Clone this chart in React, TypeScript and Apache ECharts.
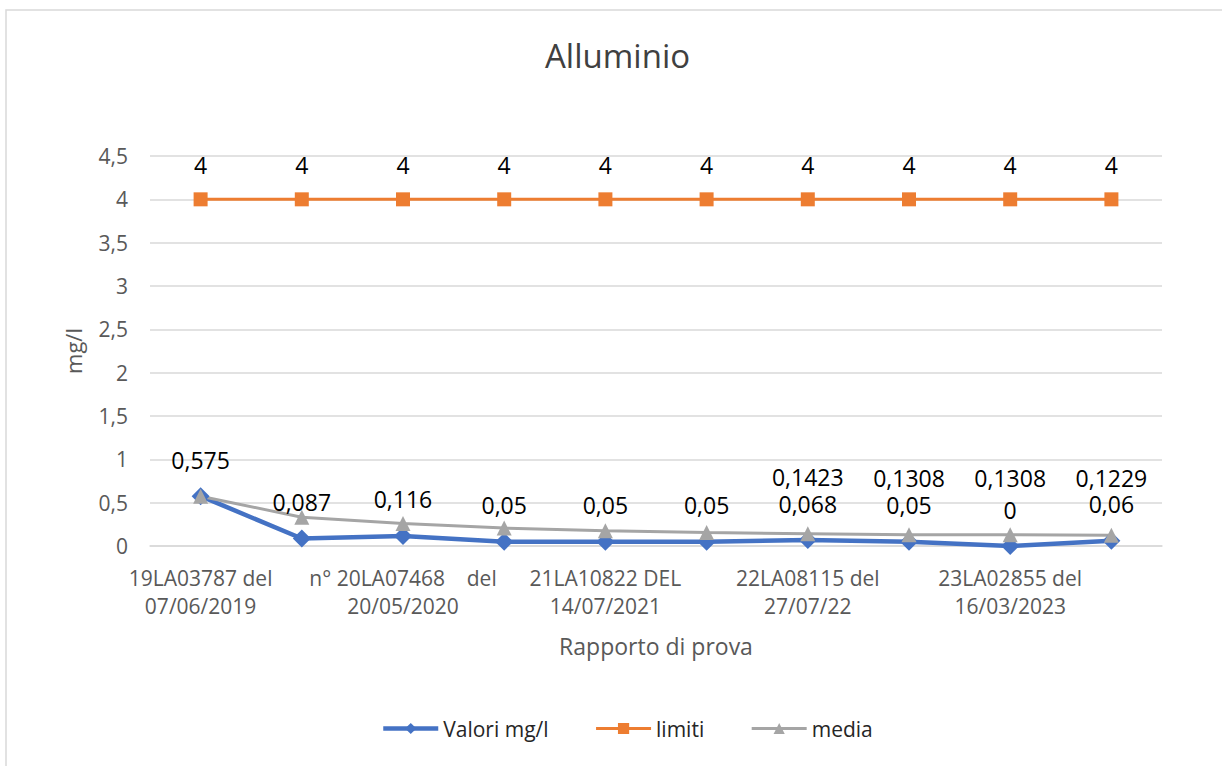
import React, { useEffect, useRef } from "react";
import * as echarts from "echarts";

const categories = [
  "19LA03787 del\n07/06/2019",
  "cat2",
  "n° 20LA07468    del\n20/05/2020",
  "cat4",
  "21LA10822 DEL\n14/07/2021",
  "cat6",
  "22LA08115 del\n27/07/22",
  "cat8",
  "23LA02855 del\n16/03/2023",
  "cat10",
];
const valori = [0.575, 0.087, 0.116, 0.05, 0.05, 0.05, 0.068, 0.05, 0, 0.06];
const limiti = [4, 4, 4, 4, 4, 4, 4, 4, 4, 4];
const media = [0.575, 0.331, 0.2593, 0.207, 0.1756, 0.1547, 0.1423, 0.1308, 0.1308, 0.1229];
const mediaLabelShown = [false, false, false, false, false, false, true, true, true, true];
const yTicks = [0, 0.5, 1, 1.5, 2, 2.5, 3, 3.5, 4, 4.5];

const FONT = "'Open Sans', 'Noto Sans', sans-serif";
const fmt = (v: number) => String(v).replace(".", ",");

export default function App() {
  const ref = useRef<HTMLDivElement>(null);
  useEffect(() => {
    if (!ref.current) return;
    const chart = echarts.init(ref.current, undefined, { renderer: "svg" });
    chart.setOption({
      animation: false,
      backgroundColor: "#ffffff",
      textStyle: { fontFamily: FONT },
      title: {
        text: "Alluminio",
        left: 540,
        top: 34,
        textStyle: { fontFamily: FONT, fontSize: 33, fontWeight: "normal", color: "#404040" },
      },
      graphic: [
        {
          type: "rect",
          shape: { x: 6, y: 10, width: 1260, height: 800 },
          style: { fill: "none", stroke: "#d9d9d9", lineWidth: 1.5 },
          silent: true,
        },
      ],
      legend: {
        bottom: 22,
        left: 376,
        itemWidth: 55,
        itemHeight: 14,
        itemGap: 46,
        textStyle: { fontFamily: FONT, fontSize: 21, color: "#262626" },
        data: [
          { name: "Valori mg/l", lineStyle: { width: 4.5 } },
          { name: "limiti", lineStyle: { width: 3 } },
          { name: "media", lineStyle: { width: 3 } },
        ],
      },
      grid: { left: 150, right: 60, top: 156, bottom: 220 },
      xAxis: {
        type: "category",
        data: categories,
        boundaryGap: true,
        name: "Rapporto di prova",
        nameLocation: "middle",
        nameGap: 88,
        nameTextStyle: { fontFamily: FONT, fontSize: 23, color: "#595959" },
        axisLine: { show: true, lineStyle: { color: "#d9d9d9", width: 1.5 } },
        axisTick: { show: false },
        axisLabel: {
          interval: 1,
          margin: 18,
          fontFamily: FONT,
          fontSize: 21,
          color: "#595959",
          lineHeight: 28,
          formatter: (v: string) => v,
        },
      },
      yAxis: {
        type: "value",
        min: 0,
        max: yTicks[yTicks.length - 1],
        interval: 0.5,
        name: "mg/l",
        nameLocation: "middle",
        nameGap: 66,
        nameRotate: 90,
        nameTextStyle: { fontFamily: FONT, fontSize: 22, color: "#595959" },
        axisLine: { show: false },
        axisTick: { show: false },
        axisLabel: {
          margin: 22,
          fontFamily: FONT,
          fontSize: 21,
          color: "#595959",
          formatter: (v: number) => fmt(v),
        },
        splitLine: { lineStyle: { color: "#d9d9d9", width: 1.5 } },
      },
      series: [
        {
          name: "Valori mg/l",
          type: "line",
          data: valori,
          symbol: "diamond",
          symbolSize: 18,
          itemStyle: { color: "#4472C4" },
          lineStyle: { color: "#4472C4", width: 4.5 },
          label: {
            show: true,
            position: "top",
            distance: 16,
            fontFamily: FONT,
            fontSize: 23,
            color: "#000000",
            formatter: (p: any) => fmt(p.value),
          },
        },
        {
          name: "limiti",
          type: "line",
          data: limiti,
          symbol: "rect",
          symbolSize: 14,
          itemStyle: { color: "#ED7D31" },
          lineStyle: { color: "#ED7D31", width: 3 },
          label: {
            show: true,
            position: "top",
            distance: 16,
            fontFamily: FONT,
            fontSize: 23,
            color: "#000000",
            formatter: (p: any) => fmt(p.value),
          },
        },
        {
          name: "media",
          type: "line",
          data: media,
          symbol: "triangle",
          symbolSize: 15,
          itemStyle: { color: "#A5A5A5" },
          lineStyle: { color: "#A5A5A5", width: 3 },
          label: {
            show: true,
            position: "top",
            distance: 38,
            fontFamily: FONT,
            fontSize: 23,
            color: "#000000",
            formatter: (p: any) => (mediaLabelShown[p.dataIndex] ? fmt(p.value) : ""),
          },
        },
      ],
    });
    return () => chart.dispose();
  }, []);
  return (
    <div
      ref={ref}
      style={{ position: "fixed", left: 0, top: 0, width: 1222, height: 766 }}
    />
  );
}
